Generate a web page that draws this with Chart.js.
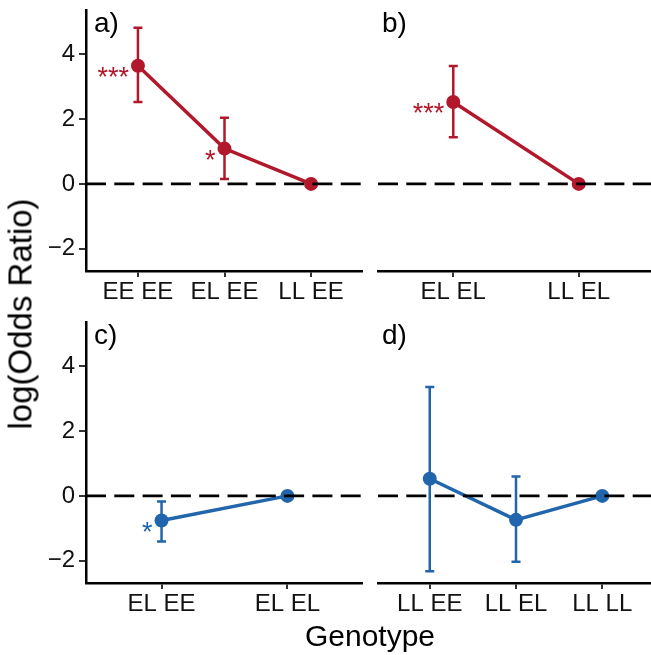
<!DOCTYPE html>
<html><head><meta charset="utf-8">
<script src="https://cdn.jsdelivr.net/npm/chart.js@4.4.1/dist/chart.umd.min.js"></script>
<style>
html,body{margin:0;padding:0;background:#fff;overflow:hidden;width:651px;height:655px;}
#wrap{position:relative;width:651px;height:655px;overflow:hidden;background:#fff;}
canvas{position:absolute;}
.ttl{position:absolute;font-family:"Liberation Sans",Arial,sans-serif;color:#000;white-space:nowrap;line-height:1;}
</style></head><body>
<div id="wrap">
<canvas id="pa" width="363" height="311" style="left:0;top:0"></canvas>
<canvas id="pb" width="292" height="311" style="left:362px;top:0"></canvas>
<canvas id="pc" width="363" height="311" style="left:0;top:312px"></canvas>
<canvas id="pd" width="292" height="311" style="left:362px;top:312px"></canvas>
<div id="ytitle" class="ttl" style="font-size:33px;left:20px;top:314px;transform:translate(-50%,-50%) rotate(-90deg);"></div>
<div id="xtitle" class="ttl" style="font-size:30px;left:86px;width:568px;text-align:center;top:621px;"></div>
</div>
<script>
// ---- data ----
const catsA = ["EE EE", "EL EE", "LL EE"];
const orA   = [3.65, 1.09, 0];
const loA   = [2.53, 0.15, null];
const hiA   = [4.82, 2.04, null];
const sigA  = ["***", "*", ""];

const catsB = ["EL EL", "LL EL"];
const orB   = [2.53, 0];
const loB   = [1.44, null];
const hiB   = [3.64, null];
const sigB  = ["***", ""];

const catsC = ["EL EE", "EL EL"];
const orC   = [-0.76, 0];
const loC   = [-1.41, null];
const hiC   = [-0.17, null];
const sigC  = ["*", ""];

const catsD = ["LL EE", "LL EL", "LL LL"];
const orD   = [0.53, -0.74, 0];
const loD   = [-2.33, -2.03, null];
const hiD   = [3.36, 0.60, null];
const sigD  = ["", "", ""];

const yTicks = [-2, 0, 2, 4];
const panelLabels = ["a)", "b)", "c)", "d)"];
const yTitle = "log(Odds Ratio)";
const xTitle = "Genotype";

const RED = "#B2182B", BLUE = "#2166AC";
const FONT = "Liberation Sans";

document.getElementById("ytitle").textContent = yTitle;
document.getElementById("xtitle").textContent = xTitle;

const overlay = {
  id: "overlay",
  beforeDatasetsDraw(chart, args, o) {
    const ctx = chart.ctx, xs = chart.scales.x, ys = chart.scales.y;
    ctx.save();
    ctx.strokeStyle = o.color; ctx.lineWidth = 2.5; ctx.lineCap = "butt";
    o.lo.forEach((lo, i) => {
      const hi = o.hi[i];
      if (lo == null || hi == null) return;
      const x = xs.getPixelForValue(i), y1 = ys.getPixelForValue(lo), y2 = ys.getPixelForValue(hi);
      ctx.beginPath();
      ctx.moveTo(x, y1); ctx.lineTo(x, y2);
      ctx.moveTo(x - 4.5, y1); ctx.lineTo(x + 4.5, y1);
      ctx.moveTo(x - 4.5, y2); ctx.lineTo(x + 4.5, y2);
      ctx.stroke();
    });
    ctx.restore();
  },
  afterDatasetsDraw(chart, args, o) {
    const ctx = chart.ctx, xs = chart.scales.x, ys = chart.scales.y, a = chart.chartArea;
    ctx.save();
    // zero reference line
    const y0 = ys.getPixelForValue(0);
    ctx.strokeStyle = "#000"; ctx.lineWidth = 2.8; ctx.setLineDash([20, 8.3]);
    ctx.beginPath(); ctx.moveTo(a.left, y0); ctx.lineTo(a.right + 2, y0); ctx.stroke();
    ctx.setLineDash([]);
    // significance stars
    ctx.fillStyle = o.color; ctx.font = "27px '" + FONT + "'";
    ctx.textAlign = "right"; ctx.textBaseline = "alphabetic";
    o.sig.forEach((s, i) => {
      if (!s) return;
      const x = xs.getPixelForValue(i), y = ys.getPixelForValue(o.vals[i]);
      ctx.fillText(s, x - 9, y + 20);
    });
    // panel label
    ctx.fillStyle = "#000"; ctx.font = "28px '" + FONT + "'"; ctx.textAlign = "left";
    ctx.fillText(o.label, a.left + o.labelDx, a.top + 22);
    ctx.restore();
  }
};

function makePanel(id, cats, vals, lo, hi, sig, color, label, showY, padLeft) {
  new Chart(document.getElementById(id), {
    type: "line",
    data: { datasets: [{
      data: vals.map((v, i) => ({ x: i, y: v })),
      borderColor: color, backgroundColor: color, borderWidth: 3.5,
      pointRadius: 7, pointHoverRadius: 7, pointBackgroundColor: color, pointBorderWidth: 0,
      tension: 0, fill: false
    }]},
    options: {
      responsive: false, animation: false, devicePixelRatio: 1,
      layout: { autoPadding: false, padding: { top: 10, left: padLeft, right: 0, bottom: 0 } },
      plugins: { legend: { display: false }, tooltip: { enabled: false },
        overlay: { color, lo, hi, sig, vals, label, labelDx: showY ? 8 : 4 } },
      scales: {
        x: {
          type: "linear", min: -0.6, max: cats.length - 0.4,
          afterBuildTicks: s => { s.ticks = cats.map((c, i) => ({ value: i })); },
          afterFit: s => { s.height = 40; s.paddingLeft = 0; s.paddingRight = 0; },
          ticks: { callback: v => cats[v], font: { family: FONT, size: 24 }, color: "#111",
                   padding: 1, maxRotation: 0, autoSkip: false },
          grid: { display: true, drawOnChartArea: false, drawTicks: true, tickLength: 6, color: "#333", lineWidth: 2 },
          border: { display: true, color: "#000", width: 2.5 }
        },
        y: {
          display: showY, min: -2.69, max: 5.37,
          afterBuildTicks: s => { s.ticks = yTicks.map(v => ({ value: v })); },
          afterFit: s => { s.width = showY ? 86 : 0; s.paddingTop = 0; s.paddingBottom = 0; },
          ticks: { callback: v => String(v).replace("-", "\u2212"), font: { family: FONT, size: 24 }, color: "#111", padding: 4 },
          grid: { display: true, drawOnChartArea: false, drawTicks: true, tickLength: 7, color: "#333", lineWidth: 2 },
          border: { display: true, color: "#000", width: 2.5 }
        }
      }
    },
    plugins: [overlay]
  });
}

makePanel("pa", catsA, orA, loA, hiA, sigA, RED, panelLabels[0], true, 0);
makePanel("pb", catsB, orB, loB, hiB, sigB, RED, panelLabels[1], false, 16);
makePanel("pc", catsC, orC, loC, hiC, sigC, BLUE, panelLabels[2], true, 0);
makePanel("pd", catsD, orD, loD, hiD, sigD, BLUE, panelLabels[3], false, 16);
</script>
</body></html>
